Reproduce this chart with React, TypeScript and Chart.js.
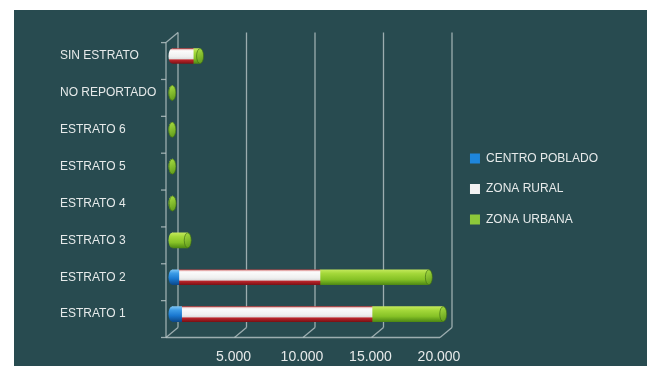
import React, { useEffect, useRef } from 'react';
import { Chart, registerables } from 'chart.js';

Chart.register(...registerables);

// ---------- data ----------
const categories = [
  'SIN ESTRATO',
  'NO REPORTADO',
  'ESTRATO 6',
  'ESTRATO 5',
  'ESTRATO 4',
  'ESTRATO 3',
  'ESTRATO 2',
  'ESTRATO 1',
];
const centroPoblado = [0, 0, 0, 0, 0, 0, 500, 700];
const zonaRural = [1550, 0, 0, 0, 0, 0, 10300, 13900];
const zonaUrbana = [500, 25, 20, 30, 50, 1150, 7950, 5200];
const seriesNames = ['CENTRO POBLADO', 'ZONA RURAL', 'ZONA URBANA'];
const xTickValues = [0, 5000, 10000, 15000, 20000];
const xMax = 20400;

// ---------- styles ----------
const W = 633;
const H = 356;
const BAR_T = 15;
const DX = 6;
const DY = 5;
const FONT = 'Liberation Sans';
const TEXT = '#e6eaea';
const FRAME = 'rgba(185,198,199,0.8)';
const legendColors = ['#1e86dc', '#f2f2f2', '#8dc83a'];

type Stops = [number, string][];
const blueStops: Stops = [
  [0, '#7cc4f4'],
  [0.25, '#3a9ae6'],
  [0.6, '#1a78d0'],
  [1, '#0c4a8c'],
];
const whiteStops: Stops = [
  [0, '#c84a4a'],
  [0.08, '#f4dede'],
  [0.16, '#fbfbfb'],
  [0.55, '#efefef'],
  [0.7, '#dddddd'],
  [0.75, '#c0262c'],
  [1, '#7e1216'],
];
const greenStops: Stops = [
  [0, '#c2e85a'],
  [0.25, '#a4d83a'],
  [0.65, '#86c226'],
  [1, '#4f8a14'],
];
const allStops = [blueStops, whiteStops, greenStops];

function makeGrad(c: CanvasRenderingContext2D, yc: number, h: number, stops: Stops) {
  const g = c.createLinearGradient(0, yc - h / 2, 0, yc + h / 2);
  stops.forEach(([o, col]) => g.addColorStop(o, col));
  return g;
}

function cylinderFill(stops: Stops, solid: string) {
  return (ctx: any) => {
    if (ctx.type !== 'data') return solid;
    const chart = ctx.chart;
    const y = chart.scales && chart.scales.y;
    if (!chart.chartArea || !y) return solid;
    const yc = y.getPixelForValue(ctx.dataIndex);
    if (!isFinite(yc)) return solid;
    return makeGrad(chart.ctx, yc, BAR_T, stops);
  };
}

function fmt(v: number) {
  return String(v).replace(/\B(?=(\d{3})+(?!\d))/g, '.');
}

const framePlugin = {
  id: 'frame3d',
  beforeDatasetsDraw(chart: any) {
    const { ctx, chartArea, scales } = chart;
    const { top, bottom } = chartArea;
    const x = scales.x;
    const y = scales.y;
    const x0 = x.getPixelForValue(0);
    const xEnd = x.getPixelForValue(xTickValues[xTickValues.length - 1]);
    const line = (a: number, b: number, c: number, d: number) => {
      ctx.beginPath();
      ctx.moveTo(a, b);
      ctx.lineTo(c, d);
      ctx.stroke();
    };
    ctx.save();
    ctx.strokeStyle = FRAME;
    ctx.lineWidth = 1.3;
    xTickValues.forEach((v) => {
      const px = x.getPixelForValue(v);
      line(px + DX, top - DY, px + DX, bottom - DY);
      line(px - DX, bottom + DY, px + DX, bottom - DY);
    });
    line(x0 - DX, bottom + DY, xEnd - DX, bottom + DY);
    line(x0 - DX, top + DY, x0 - DX, bottom + DY);
    line(x0 - DX, top + DY, x0 + DX, top - DY);
    for (let k = 0; k <= categories.length; k++) {
      const yb = y.getPixelForValue(k - 0.5) + DY;
      line(x0 - DX - 5, yb, x0 - DX, yb);
    }
    ctx.restore();
  },
  afterDatasetsDraw(chart: any) {
    const { ctx } = chart;
    const datasets = chart.data.datasets;
    ctx.save();
    for (let i = 0; i < categories.length; i++) {
      const nz: number[] = [];
      datasets.forEach((ds: any, d: number) => {
        if ((ds.data[i] || 0) > 0) nz.push(d);
      });
      if (!nz.length) continue;
      const f = nz[0];
      const l = nz[nz.length - 1];
      const ef = chart.getDatasetMeta(f).data[i].getProps(['x', 'base', 'y'], true);
      const el = chart.getDatasetMeta(l).data[i].getProps(['x', 'base', 'y'], true);
      const start = Math.min(ef.x, ef.base);
      const end = Math.max(el.x, el.base);
      const yc = ef.y;
      const rx = 3.5;
      const ry = BAR_T / 2;
      ctx.beginPath();
      ctx.ellipse(start, yc, rx, ry, 0, 0, Math.PI * 2);
      ctx.fillStyle = makeGrad(ctx, yc, BAR_T, allStops[f]);
      ctx.fill();
      ctx.beginPath();
      ctx.ellipse(end, yc, rx, ry, 0, 0, Math.PI * 2);
      const cg = ctx.createLinearGradient(end - rx, yc - ry, end + rx, yc + ry);
      cg.addColorStop(0, '#a9de42');
      cg.addColorStop(1, '#5c9818');
      ctx.fillStyle = l === 2 ? cg : makeGrad(ctx, yc, BAR_T, allStops[l]);
      ctx.fill();
      ctx.lineWidth = 0.8;
      ctx.strokeStyle = 'rgba(60,105,20,0.8)';
      ctx.stroke();
    }
    ctx.restore();
  },
};

export default function App() {
  const ref = useRef<HTMLCanvasElement | null>(null);

  useEffect(() => {
    if (!ref.current) return;
    const chart = new Chart(ref.current, {
      type: 'bar',
      data: {
        labels: categories,
        datasets: [
          {
            label: seriesNames[0],
            data: centroPoblado,
            backgroundColor: cylinderFill(blueStops, legendColors[0]),
            barThickness: BAR_T,
            borderWidth: 0,
          },
          {
            label: seriesNames[1],
            data: zonaRural,
            backgroundColor: cylinderFill(whiteStops, legendColors[1]),
            barThickness: BAR_T,
            borderWidth: 0,
          },
          {
            label: seriesNames[2],
            data: zonaUrbana,
            backgroundColor: cylinderFill(greenStops, legendColors[2]),
            barThickness: BAR_T,
            borderWidth: 0,
          },
        ],
      },
      options: {
        indexAxis: 'y',
        responsive: false,
        animation: false,
        devicePixelRatio: 1,
        layout: { padding: { left: 46, top: 27.6, right: 39, bottom: 0 } },
        scales: {
          x: {
            stacked: true,
            min: 0,
            max: xMax,
            grid: { display: false, drawTicks: false },
            border: { display: false },
            afterBuildTicks: (scale: any) => {
              scale.ticks = xTickValues.map((v) => ({ value: v }));
            },
            afterFit: (scale: any) => {
              scale.height = 33.5;
            },
            ticks: {
              padding: 16.5,
              labelOffset: -7,
              color: TEXT,
              font: { family: FONT, size: 14 },
              maxRotation: 0,
              callback: (v: any) => (Number(v) === 0 ? '' : fmt(Number(v))),
            },
          },
          y: {
            stacked: true,
            grid: { display: false, drawTicks: false },
            border: { display: false },
            afterFit: (scale: any) => {
              scale.width = 112;
            },
            ticks: {
              crossAlign: 'far',
              color: TEXT,
              font: { family: FONT, size: 12 },
              padding: 0,
            },
          },
        },
        plugins: {
          legend: {
            position: 'right',
            align: 'start',
            maxWidth: 220,
            title: {
              display: true,
              text: ' ',
              font: { family: FONT, size: 12 },
              padding: { top: 82, bottom: 0 },
            },
            labels: {
              boxWidth: 10,
              boxHeight: 10,
              padding: 18.5,
              color: TEXT,
              font: { family: FONT, size: 12 },
              generateLabels: (c: any) =>
                Chart.defaults.plugins.legend.labels
                  .generateLabels(c)
                  .map((it: any, i: number) => ({
                    ...it,
                    fillStyle: legendColors[i],
                    strokeStyle: legendColors[i],
                    lineWidth: 0,
                  })),
            },
          },
          tooltip: { enabled: false },
        },
      },
      plugins: [framePlugin],
    } as any);
    return () => chart.destroy();
  }, []);

  return (
    <div
      style={{
        position: 'fixed',
        left: 0,
        top: 0,
        width: 647,
        height: 366,
        background: '#ffffff',
        overflow: 'hidden',
      }}
    >
      <div
        style={{
          position: 'absolute',
          left: 14,
          top: 10,
          width: W,
          height: H,
          background: '#284b50',
        }}
      >
        <canvas ref={ref} width={W} height={H} style={{ display: 'block' }} />
      </div>
    </div>
  );
}
